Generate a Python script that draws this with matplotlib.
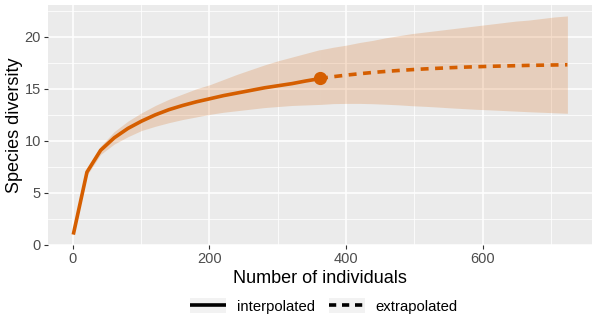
import matplotlib
matplotlib.use("Agg")
import matplotlib.pyplot as plt
from matplotlib.lines import Line2D
from matplotlib.patches import Patch

plt.rcParams['font.family'] = ['Liberation Sans', 'DejaVu Sans']

# interpolated part (sample size m, diversity, CI)
m_interp = [1, 21, 41, 61, 81, 101, 121, 141, 161, 181, 201, 221, 241, 261, 281, 301, 321, 341, 361, 362]
s_interp = [1.0, 7.0, 9.1, 10.3, 11.2, 11.9, 12.5, 13.0, 13.4, 13.75, 14.05, 14.35, 14.6, 14.85,
            15.1, 15.3, 15.5, 15.75, 15.97, 16.0]
lo_interp = [1.0, 6.7, 8.7, 9.7, 10.4, 11.0, 11.4, 11.75, 12.05, 12.3, 12.55, 12.75, 12.9, 13.05,
             13.2, 13.3, 13.4, 13.45, 13.5, 13.5]
hi_interp = [1.0, 7.3, 9.5, 10.9, 11.9, 12.7, 13.4, 14.0, 14.5, 15.0, 15.4, 15.9, 16.4, 16.85,
             17.3, 17.7, 18.05, 18.4, 18.75, 18.75]

# extrapolated part
m_extrap = [362, 382, 401, 420, 439, 458, 477, 496, 515, 534, 553, 572, 591, 610, 629, 648, 667, 686, 705, 724]
s_extrap = [16.0, 16.17, 16.32, 16.45, 16.57, 16.67, 16.76, 16.84, 16.91, 16.97, 17.03, 17.08, 17.12,
            17.16, 17.19, 17.22, 17.25, 17.27, 17.29, 17.31]
lo_extrap = [13.5, 13.58, 13.6, 13.6, 13.57, 13.52, 13.46, 13.38, 13.32, 13.25, 13.17, 13.1, 13.03,
             12.98, 12.92, 12.86, 12.8, 12.75, 12.7, 12.65]
hi_extrap = [18.75, 19.0, 19.2, 19.45, 19.65, 19.9, 20.1, 20.3, 20.45, 20.6, 20.75, 20.9, 21.05,
             21.2, 21.35, 21.5, 21.6, 21.75, 21.9, 22.0]

observed_m = [362]
observed_s = [16.0]

x_ticks = [0, 200, 400, 600]
y_ticks = [0, 5, 10, 15, 20]

col = '#D55E00'

W, H = 598, 329
fig = plt.figure(figsize=(W / 100, H / 100), dpi=100)
ax = fig.add_axes([48 / W, (329 - 245) / H, (592 - 48) / W, (245 - 5) / H])
ax.set_facecolor('#EBEBEB')
for s in ax.spines.values():
    s.set_visible(False)

ax.fill_between(m_interp, lo_interp, hi_interp, color=col, alpha=0.2, lw=0, zorder=2)
ax.fill_between(m_extrap, lo_extrap, hi_extrap, color=col, alpha=0.2, lw=0, zorder=2)
ax.plot(m_interp, s_interp, color=col, lw=2.6, solid_capstyle='butt', zorder=3)
ax.plot(m_extrap, s_extrap, color=col, lw=2.6, dashes=(2.2, 1.8), dash_capstyle='butt', zorder=3)
ax.plot(observed_m, observed_s, 'o', color=col, ms=8.5, zorder=4)

ax.set_xlim(-36, 760)
ax.set_ylim(0.05, 23.05)
ax.set_xticks(x_ticks)
ax.set_yticks(y_ticks)
ax.set_xticks([100, 300, 500, 700], minor=True)
ax.set_yticks([2.5, 7.5, 12.5, 17.5, 22.5], minor=True)
ax.grid(which='major', color='white', lw=1.1, zorder=0)
ax.grid(which='minor', color='white', lw=0.55, zorder=0)
ax.set_axisbelow(True)
ax.tick_params(which='major', length=3, width=0.8, color='#333333', labelcolor='#4D4D4D',
               labelsize=10.5, pad=2)
ax.tick_params(which='minor', length=0)

ax.set_xlabel('Number of individuals', fontsize=13, labelpad=3)
ax.set_ylabel('Species diversity', fontsize=13, labelpad=1)

key_bg = '#F2F2F2'
handles = [(Patch(facecolor=key_bg, edgecolor='none'), Line2D([], [], color='black', lw=2.6, solid_capstyle='butt')),
           (Patch(facecolor=key_bg, edgecolor='none'), Line2D([], [], color='black', lw=2.6, dashes=(2, 1.6),
                                                                dash_capstyle='butt'))]
fig.legend(handles, ['interpolated', 'extrapolated'], loc='center', ncol=2,
           bbox_to_anchor=(324 / W, 1 - 306 / H), frameon=False, fontsize=10.7,
           handlelength=2.4, handleheight=1.2, columnspacing=1.0, handletextpad=0.7)

fig.savefig('out.png', dpi=100)
